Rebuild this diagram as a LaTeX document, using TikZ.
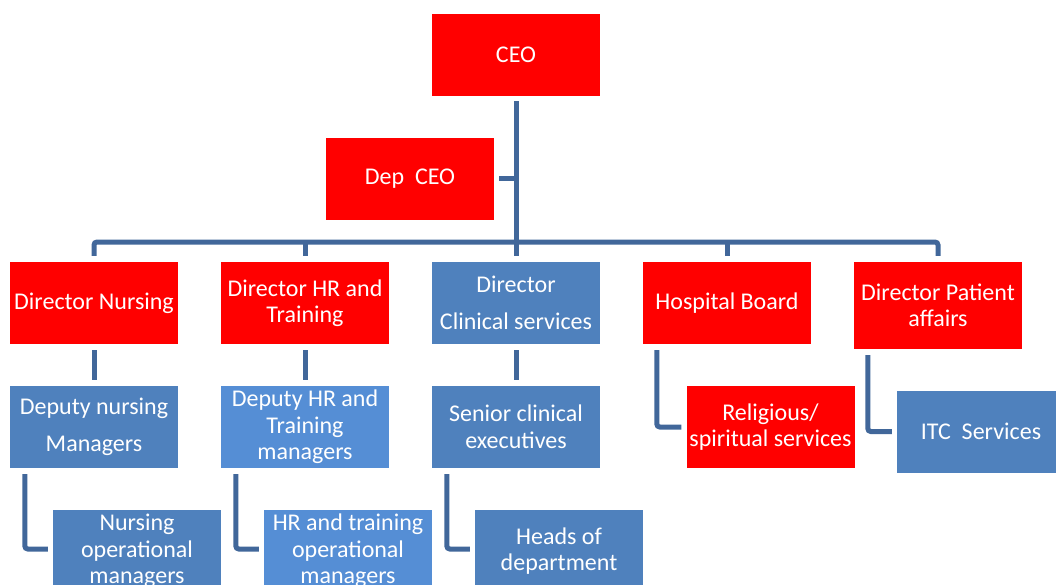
\documentclass[tikz,border=0pt]{standalone}
\usepackage{fontspec}
\setmainfont{Carlito}
\usetikzlibrary{calc}
\definecolor{bred}{HTML}{FF0000}
\definecolor{bblue}{HTML}{4F81BD}
\definecolor{lblue}{HTML}{558ED5}
\definecolor{lnk}{HTML}{41679A}
\begin{document}
\begin{tikzpicture}[x=1pt,y=-1pt,
 box/.style={minimum width=168pt,minimum height=82pt,inner sep=0pt,text=white,align=center,font=\fontsize{24}{26.5}\selectfont},
 redbox/.style={box,fill=bred},
 bluebox/.style={box,fill=bblue},
 lbluebox/.style={box,fill=lblue},
 link/.style={draw=lnk,line width=5pt}]
\useasboundingbox[fill=white] (0,0) rectangle (1056,585);
% nodes
\node[redbox] (ceo) at (516,55) {CEO};
\node[redbox] (dep) at (410,179) {Dep~ CEO};
\node[redbox] (dn) at (94,303) {Director Nursing};
\node[redbox] (dhr) at (305,303) {Director HR and\\Training};
\node[bluebox] (dcs) at (516,303) {Director\\[10pt]Clinical services};
\node[redbox] (hb) at (727,303) {Hospital Board};
\node[redbox,minimum height=87pt] (dpa) at (938,305.5) {Director Patient\\affairs};
\node[bluebox] (dnm) at (94,427) {Deputy nursing\\[10pt]Managers};
\node[lbluebox] (dhm) at (305,427) {Deputy HR and\\Training\\managers};
\node[bluebox] (sce) at (516,427) {Senior clinical\\executives};
\node[redbox] (rel) at (770.5,427) {Religious/\\spiritual services};
\node[bluebox] (itc) at (981,431.5) {ITC~ Services};
\node[bluebox] (nom) at (137,551) {Nursing\\operational\\managers};
\node[lbluebox] (hom) at (348,551) {HR and training\\operational\\managers};
\node[bluebox] (hod) at (559,551) {Heads of\\department};
% connectors
\coordinate (bus) at (516,242);
\draw[link] ($(ceo.south)+(0,5)$) -- (bus);
\draw[link] ($(dep.east)+(5,0)$) -- (dep.east -| ceo.south);
\draw[link,rounded corners=3pt] ($(dn.north)+(0,-6)$) -- (dn.north |- bus) -- (dpa.north |- bus) -- ($(dpa.north)+(0,-6)$);
\draw[link] (dhr.north |- bus) -- ($(dhr.north)+(0,-6)$);
\draw[link] (dcs.north |- bus) -- ($(dcs.north)+(0,-6)$);
\draw[link] (hb.north |- bus) -- ($(hb.north)+(0,-6)$);
\draw[link] ($(dn.south)+(0,6)$) -- ($(dnm.north)+(0,-6)$);
\draw[link] ($(dhr.south)+(0,6)$) -- ($(dhm.north)+(0,-6)$);
\draw[link] ($(dcs.south)+(0,6)$) -- ($(sce.north)+(0,-6)$);
\draw[link,rounded corners=3pt] ($(hb.south west)+(14,6)$) |- ($(rel.west)+(-5,0)$);
\draw[link,rounded corners=3pt] ($(dpa.south west)+(14,6)$) |- ($(itc.west)+(-5,0)$);
\draw[link,rounded corners=3pt] ($(dnm.south west)+(15,6)$) |- ($(nom.west)+(-5,-2)$);
\draw[link,rounded corners=3pt] ($(dhm.south west)+(15,6)$) |- ($(hom.west)+(-5,-2)$);
\draw[link,rounded corners=3pt] ($(sce.south west)+(15,6)$) |- ($(hod.west)+(-5,-2)$);
\end{tikzpicture}
\end{document}
